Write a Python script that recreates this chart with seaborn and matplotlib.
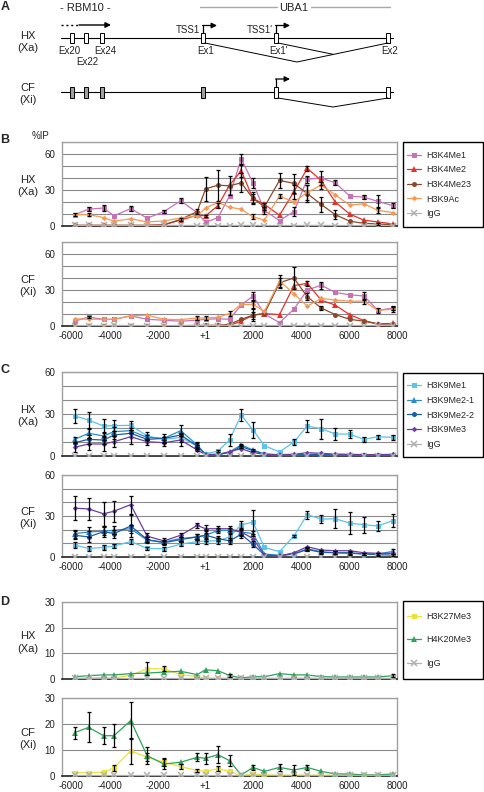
import numpy as np
import matplotlib
matplotlib.use("Agg")
import matplotlib.pyplot as plt
from matplotlib.patches import Rectangle
from matplotlib.transforms import ScaledTranslation
import seaborn as sns

# amplicon positions (bp, relative to TSS1 = +1)
pos = [-5470, -4890, -4260, -3830, -3130, -2440, -1740, -1040, -350, 0, 520, 1000,
       1490, 1980, 2460, 3090, 3690, 4250, 4830, 5420, 6020, 6620, 7200, 7830]
xtick_vals = [-6000, -4000, -2000, 0, 2000, 4000, 6000, 8000]
xtick_labels = ['-6000', '-4000', '-2000', '+1', '2000', '4000', '6000', '8000']

# --- B: active marks, HX (Xa) ---
b_hx_k4me1 = [9.5, 14, 15, 8.5, 14.5, 6.5, 12, 21, 11, 3, 7, 25, 56, 36, 13, 4.5, 12, 39, 40, 36, 25, 24, 20.5, 17]
b_hx_k4me1_err = [0, 1.5, 2.5, 0, 2, 0, 1.5, 2, 0, 0, 0, 0, 4, 4, 3, 0, 4, 3, 6, 2, 0, 1.5, 5, 2]
b_hx_k4me2 = [0.5, 0.5, 0.5, 0.5, 0.5, 0.5, 1, 5, 9, 8.5, 17, 34, 46, 23, 18, 9, 28.5, 48, 38, 20, 10, 4.8, 3.4, 1.7]
b_hx_k4me2_err = [0, 0, 0, 0, 0, 0, 0, 0, 0, 1, 2, 0, 5, 4, 0, 0, 6, 2, 0, 0, 0, 0, 0, 0]
b_hx_k4me23 = [0.5, 0.5, 0.5, 0.5, 0.5, 0.5, 1, 5.5, 12, 31, 34, 33.5, 36, 23, 16, 38, 35.5, 27, 18, 9.5, 4, 2.2, 1.7, 1]
b_hx_k4me23_err = [0, 0, 0, 0, 0, 0, 0, 1, 2, 10, 13, 8, 8, 5, 3, 6, 8, 7, 6, 4, 0, 0, 1, 0]
b_hx_k9ac = [9.5, 9.5, 7, 4, 6, 3.4, 4.2, 6.7, 8.4, 15, 19.6, 15.7, 14, 7.6, 5, 25, 20, 28, 34, 26, 17.4, 18.5, 13, 11.2]
b_hx_k9ac_err = [1, 1, 0, 0, 0, 0, 0, 0, 0, 0, 0, 0, 0, 2, 0, 2, 0, 6, 3, 0, 0, 0, 2, 0]
b_hx_igg = [0.5, 0.5, 0.6, 0.5, 0.5, 0.4, 0.5, 0.5, 0.4, 0.4, 0.4, 0.4, 0.5, 0.5, 0.4, 0.4, 0.4, 0.5, 0.5, 0.4, 0.4, 0.4, 0.4, 0.4]

# --- B: active marks, CF (Xi) ---
b_cf_k4me1 = [4, 7.5, 5.6, 5.6, 8.4, 5.6, 4.8, 4, 4.8, 5.6, 6, 5.6, 17.4, 25, 10, 2.8, 14, 30, 34, 28, 26, 25, 13, 15]
b_cf_k4me1_err = [0, 1, 0, 0, 0, 0, 0, 0, 0, 0, 0, 0, 0, 3, 0, 0, 0, 0, 3, 0, 0, 3, 0, 2]
b_cf_k4me2 = [0.3, 0.3, 0.3, 0.3, 0.3, 0.3, 0.3, 0.3, 0.3, 0.3, 0.5, 0.5, 4, 9, 10.4, 9.5, 33.6, 35.6, 21.6, 17.4, 9.5, 4.5, 1.7, 2.2]
b_cf_k4me2_err = [0, 0, 0, 0, 0, 0, 0, 0, 0, 0, 0, 0, 0, 3, 0, 0, 0, 2, 0, 0, 0, 0, 0, 0]
b_cf_k4me23 = [0.3, 0.3, 0.3, 0.3, 0.3, 0.3, 0.3, 0.3, 0.5, 0.5, 0.5, 1.4, 5.6, 9, 10.4, 36, 40, 24.4, 15, 9.5, 5.6, 4, 1.7, 1.7]
b_cf_k4me23_err = [0, 0, 0, 0, 0, 0, 0, 0, 0, 0, 0, 0, 0, 5, 0, 4, 9, 3, 2, 0, 0, 0, 0, 0]
b_cf_k9ac = [6, 5.6, 5.6, 5.6, 8.4, 9, 5.6, 5.3, 6.7, 6.7, 7.3, 10.4, 18, 18, 12.3, 37.5, 27, 16.5, 23, 21.6, 20.7, 20.7, 13, 14]
b_cf_k9ac_err = [0, 0, 0, 0, 0, 0, 0, 0, 2, 2, 0, 2, 0, 3, 0, 5, 0, 0, 0, 0, 0, 2, 2, 2]
b_cf_igg = [0.4, 0.4, 0.4, 0.5, 0.4, 0.4, 0.4, 0.4, 0.4, 0.4, 0.4, 0.4, 0.4, 0.4, 0.4, 0.4, 0.4, 0.4, 0.4, 0.4, 0.4, 0.4, 0.4, 0.4]

# --- C: H3K9 methylation, HX (Xa) ---
c_hx_k9me1 = [28.6, 25.7, 21.4, 21.7, 21.9, 14.3, 11.9, 13.3, 7.1, 1.4, 3.6, 11.4, 29.3, 18.6, 7.4, 2.9, 10, 21.4, 19.5, 15.7, 15.7, 11.9, 13.8, 13.3]
c_hx_k9me1_err = [5, 6, 5, 4, 3, 3, 2, 3, 2, 0, 1, 4, 4, 6, 0, 0, 2, 4, 7, 4, 3, 2, 1.5, 2]
c_hx_k9me2_1 = [11.9, 16.2, 14.3, 17.4, 18.1, 13.3, 12.6, 18.1, 7.9, 1.2, 1.2, 2.9, 7.9, 4.3, 1.4, 0.8, 0.8, 1.2, 1.2, 0.8, 0.8, 0.6, 0.6, 0.8]
c_hx_k9me2_1_err = [2, 3, 3, 3, 2, 2, 3, 4, 2, 0, 0, 0, 1, 1, 0, 0, 0, 0, 0, 0, 0, 0, 0, 0]
c_hx_k9me2_2 = [9.5, 11.9, 11.4, 15, 16.2, 11.9, 12.6, 15, 7.1, 1, 1, 2.4, 6.7, 3.8, 1.4, 0.6, 0.6, 1, 1, 0.6, 0.6, 0.5, 0.5, 0.6]
c_hx_k9me2_2_err = [0, 3, 3, 3, 0, 0, 0, 0, 1, 0, 0, 0, 1, 0, 0, 0, 0, 0, 0, 0, 0, 0, 0, 0]
c_hx_k9me3 = [6.2, 8.6, 8.6, 10.2, 13.8, 10.2, 9.5, 11.4, 4.3, 1, 1, 3.1, 5.2, 2.4, 1.2, 1, 1.2, 2.4, 1.9, 1.4, 1.2, 1, 1, 1.2]
c_hx_k9me3_err = [3, 4, 5, 4, 5, 2, 2, 4, 1, 0, 0, 0, 0, 0, 0, 0, 0, 0, 0, 0, 0, 0, 0, 0]
c_hx_igg = [0.3, 0.3, 0.3, 0.3, 0.3, 0.3, 0.3, 0.3, 0.3, 0.3, 0.3, 0.3, 0.3, 0.3, 0.3, 0.3, 0.3, 0.3, 0.3, 0.3, 0.3, 0.3, 0.3, 0.3]

# --- C: H3K9 methylation, CF (Xi) ---
c_cf_k9me1 = [8.7, 6.3, 7, 8, 11.3, 6.3, 6, 9.4, 11.3, 11.8, 11.8, 14.7, 23.6, 25.5, 7, 3.9, 15.4, 31, 27.7, 28, 24.8, 23.6, 22.7, 26.7]
c_cf_k9me1_err = [2, 2, 2, 1.5, 2, 1, 1.5, 1.5, 2, 2, 2, 2, 3, 9, 0, 0, 1, 3, 3, 7, 8, 6, 4, 5]
c_cf_k9me2_1 = [17.1, 18.3, 19, 19.5, 20.7, 12.3, 11, 13.5, 14.7, 15.9, 19.5, 19.5, 18.3, 17.1, 2.2, 1.2, 2.2, 6, 3.9, 3.1, 2.7, 2.2, 2.2, 4.1]
c_cf_k9me2_1_err = [3, 4, 3, 3, 3, 2, 1.5, 1.5, 2, 3, 2, 2, 3, 2, 0, 0, 0, 1, 1, 1, 1, 1, 1, 2]
c_cf_k9me2_2 = [15.9, 14.7, 18.6, 17.1, 22.7, 12.8, 10.4, 12.8, 14.7, 15.9, 13.5, 11.8, 16.6, 9.4, 1.4, 1, 2.2, 5.5, 3.4, 3.1, 3.1, 2.2, 1.7, 1.4]
c_cf_k9me2_2_err = [3, 4, 4, 3, 8, 2, 1.5, 1.5, 2, 4, 2, 2, 3, 2, 0, 0, 0, 1, 1, 1, 1, 1, 1, 1]
c_cf_k9me3 = [35.7, 35.2, 31.6, 33.5, 38.3, 15.2, 11.8, 15.9, 23.1, 20.7, 20.7, 20.7, 18.3, 13.5, 1.4, 0.7, 3.1, 7.5, 5.1, 4.6, 4.6, 3.1, 2.7, 2.7]
c_cf_k9me3_err = [8.7, 8, 9, 7.6, 6.6, 2, 2, 1.5, 2, 3, 2, 2, 2, 0, 0, 0, 0, 0, 0, 0, 0, 0, 0, 0]
c_cf_igg = [0.3, 0.3, 0.3, 0.3, 0.3, 0.3, 0.3, 0.3, 0.3, 0.3, 0.3, 0.3, 0.3, 0.3, 0.3, 0.3, 0.3, 0.3, 0.3, 0.3, 0.3, 0.3, 0.3, 0.3]

# --- D: H3K27Me3 / H4K20Me3 ---
d_hx_k27me3 = [0.4, 0.4, 0.6, 0.4, 1.4, 4, 4, 1.7, 0.9, 0.4, 0.3, 0.3, 0.3, 0.3, 0.3, 0.3, 0.3, 0.3, 0.3, 0.3, 0.3, 0.3, 0.3, 0.3]
d_hx_k27me3_err = [0, 0, 0, 0, 0, 2.5, 1, 0, 0, 0, 0, 0, 0, 0, 0, 0, 0, 0, 0, 0, 0, 0, 0, 0]
d_hx_k20me3 = [0.9, 1.3, 1.6, 1.6, 2.1, 2.3, 2.7, 3, 1.7, 3.6, 3.2, 1.4, 0.4, 0.9, 0.9, 2.1, 1.6, 1.6, 0.9, 0.8, 0.8, 0.8, 0.8, 1.3]
d_hx_k20me3_err = [0, 0, 0, 0, 0, 0, 0, 0, 0, 0, 0, 0.7, 0, 0, 0, 0, 0, 0, 0, 0, 0, 0, 0, 0.7]
d_hx_igg = [0.2, 0.2, 0.2, 0.2, 0.2, 0.2, 0.2, 0.2, 0.2, 0.2, 0.2, 0.2, 0.2, 0.2, 0.2, 0.2, 0.2, 0.2, 0.2, 0.2, 0.2, 0.2, 0.2, 0.2]

d_cf_k27me3 = [1.2, 1.3, 1.5, 3.1, 9.7, 7.2, 5.3, 3.6, 2.1, 1.8, 2.8, 1.8, 0, 0.8, 0.4, 0.3, 0.3, 0.3, 0.3, 0.3, 0.3, 0.3, 0.3, 0.3]
d_cf_k27me3_err = [0, 0, 0, 1.2, 5, 1.5, 1.5, 1, 0.5, 0, 1, 0, 0, 0, 0, 0, 0, 0, 0, 0, 0, 0, 0, 0]
d_cf_k20me3 = [16.7, 18.7, 15.5, 15.5, 21.3, 7.8, 4.6, 5.3, 7.2, 6.8, 8.2, 5.9, 0.4, 3.3, 1.8, 3.3, 2.3, 3.3, 1.8, 0.8, 0.8, 0.4, 0.4, 0.8]
d_cf_k20me3_err = [2.3, 5.8, 3.2, 4.5, 7, 3.3, 2, 0, 1.5, 2, 3.2, 2, 0, 1, 0, 1.5, 2, 1, 0, 0, 0, 0, 0, 0]
d_cf_igg = [0.2, 0.2, 0.2, 0.2, 0.2, 0.2, 0.2, 0.2, 0.2, 0.2, 0.2, 0.2, 0.2, 0.2, 0.2, 0.2, 0.2, 0.2, 0.2, 0.2, 0.2, 0.2, 0.2, 0.2]

# gene diagram (panel A), pixel layout
rbm10_exons = [72, 86, 102]
uba1_exons = [203, 276, 388]
exon_names = ['Ex20', 'Ex22', 'Ex24', 'Ex1', "Ex1'", 'Ex2']

sns.set_style("white")
plt.rcParams['font.family'] = ['Liberation Sans', 'DejaVu Sans']

W, H = 484, 792
fig = plt.figure(figsize=(W / 100, H / 100), dpi=100)


def box(l, t, r, b):
    return fig.add_axes([l / W, 1 - b / H, (r - l) / W, (b - t) / H])


def ftext(x, y, s, **kw):
    fig.text(x / W, 1 - y / H, s, **kw)


C_ME1, C_ME2, C_ME23, C_AC = '#c672b5', '#e2322b', '#8a4a2a', '#f39a56'
C_IGG = '#b0b0b0'
C_K9ME1, C_K9ME21, C_K9ME22, C_K9ME3 = '#5cc3ea', '#2a8ccd', '#1c5da6', '#6a3e9c'
C_K27, C_K20 = '#ece13c', '#2ea35c'
MSIZE = {'s': 3.6, '^': 4.2, 'o': 3.6, 'D': 2.8, 'x': 4.0}


def draw_chart(ax, series, ymax, ylabels, show_x):
    handles = []
    for name, vals, errs, color, marker in series:
        mew = 1.1 if name == 'IgG' else 0
        sns.lineplot(x=pos, y=vals, ax=ax, color=color, marker=marker, markersize=MSIZE[marker],
                     markeredgewidth=mew, markeredgecolor=color, linewidth=0.9,
                     label=name, zorder=3)
        handles.append(ax.lines[-1])
        if errs is not None:
            e = np.array(errs)
            m = e > 0
            ax.errorbar(np.array(pos)[m], np.array(vals)[m], yerr=e[m], fmt='none',
                        ecolor='black', elinewidth=0.9, capsize=1.6, capthick=0.9, zorder=4)
    if ax.get_legend() is not None:
        ax.get_legend().remove()
    ax.set_xlim(-6000, 8000)
    ax.set_ylim(0, ymax)
    yt = list(range(0, ymax + 1, 10))
    ax.set_yticks(yt)
    ax.set_yticklabels([str(v) if v in ylabels else '' for v in yt])
    ax.yaxis.grid(True, color='#8a8a8a', lw=0.8)
    ax.set_axisbelow(True)
    ax.tick_params(axis='y', length=0, labelsize=7, pad=5, labelcolor='#222222')
    ax.set_xticks(xtick_vals)
    ax.tick_params(axis='x', direction='inout', length=6, width=1, labelsize=7,
                   pad=0.5, color='#222222', labelcolor='#222222')
    if show_x:
        ax.set_xticklabels(xtick_labels)
        first = ax.get_xticklabels()[0]
        first.set_transform(first.get_transform() + ScaledTranslation(0.09, 0, fig.dpi_scale_trans))
    else:
        ax.set_xticklabels([])
    for s in ['top', 'right', 'left']:
        ax.spines[s].set_color('#a0a0a0')
        ax.spines[s].set_linewidth(1)
    ax.spines['bottom'].set_color('#222222')
    ax.spines['bottom'].set_linewidth(1.2)
    ax.set_xlabel('')
    ax.set_ylabel('')
    return handles


def draw_legend(l, t, r, b, handles, spacing):
    lax = box(l, t, r, b)
    lax.axis('off')
    lax.add_patch(Rectangle((0, 0), 1, 1, transform=lax.transAxes, fill=False,
                            edgecolor='black', lw=1, clip_on=False))
    lax.legend(handles=handles, labels=[h.get_label() for h in handles], loc='center left',
               bbox_to_anchor=(0, 0.5), frameon=False, fontsize=6.5, handlelength=1.6,
               handletextpad=0.55, borderaxespad=0, borderpad=0.4, labelspacing=spacing)


def side_label(ax_top, ax_bot, text):
    ftext(28, (ax_top + ax_bot) / 2 + 2, text, ha='center', va='center', fontsize=8,
          linespacing=1.35, color='#222222')


# ---------------- panel B ----------------
ax = box(62, 142, 397, 226)
hB = draw_chart(ax, [('H3K4Me1', b_hx_k4me1, b_hx_k4me1_err, C_ME1, 's'),
                     ('H3K4Me2', b_hx_k4me2, b_hx_k4me2_err, C_ME2, '^'),
                     ('H3K4Me23', b_hx_k4me23, b_hx_k4me23_err, C_ME23, 'o'),
                     ('H3K9Ac', b_hx_k9ac, b_hx_k9ac_err, C_AC, 'D'),
                     ('IgG', b_hx_igg, None, C_IGG, 'x')], 70, [0, 30, 60], False)
ax = box(62, 242, 397, 326)
draw_chart(ax, [('H3K4Me1', b_cf_k4me1, b_cf_k4me1_err, C_ME1, 's'),
                ('H3K4Me2', b_cf_k4me2, b_cf_k4me2_err, C_ME2, '^'),
                ('H3K4Me23', b_cf_k4me23, b_cf_k4me23_err, C_ME23, 'o'),
                ('H3K9Ac', b_cf_k9ac, b_cf_k9ac_err, C_AC, 'D'),
                ('IgG', b_cf_igg, None, C_IGG, 'x')], 70, [0, 30, 60], True)
draw_legend(403, 142, 483, 227, hB, 0.62)
side_label(142, 226, 'HX\n(Xa)')
side_label(242, 326, 'CF\n(Xi)')
ftext(40, 136, '%IP', ha='center', va='center', fontsize=7, color='#222222')

# ---------------- panel C ----------------
ax = box(62, 372, 397, 456)
hC = draw_chart(ax, [('H3K9Me1', c_hx_k9me1, c_hx_k9me1_err, C_K9ME1, 's'),
                     ('H3K9Me2-1', c_hx_k9me2_1, c_hx_k9me2_1_err, C_K9ME21, '^'),
                     ('H3K9Me2-2', c_hx_k9me2_2, c_hx_k9me2_2_err, C_K9ME22, 'o'),
                     ('H3K9Me3', c_hx_k9me3, c_hx_k9me3_err, C_K9ME3, 'D'),
                     ('IgG', c_hx_igg, None, C_IGG, 'x')], 60, [0, 30, 60], False)
ax = box(62, 475, 397, 557)
draw_chart(ax, [('H3K9Me1', c_cf_k9me1, c_cf_k9me1_err, C_K9ME1, 's'),
                ('H3K9Me2-1', c_cf_k9me2_1, c_cf_k9me2_1_err, C_K9ME21, '^'),
                ('H3K9Me2-2', c_cf_k9me2_2, c_cf_k9me2_2_err, C_K9ME22, 'o'),
                ('H3K9Me3', c_cf_k9me3, c_cf_k9me3_err, C_K9ME3, 'D'),
                ('IgG', c_cf_igg, None, C_IGG, 'x')], 60, [0, 30, 60], True)
draw_legend(403, 373, 483, 457, hC, 0.62)
side_label(372, 456, 'HX\n(Xa)')
side_label(475, 557, 'CF\n(Xi)')

# ---------------- panel D ----------------
ax = box(62, 602, 397, 679)
hD = draw_chart(ax, [('H3K27Me3', d_hx_k27me3, d_hx_k27me3_err, C_K27, 's'),
                     ('H4K20Me3', d_hx_k20me3, d_hx_k20me3_err, C_K20, '^'),
                     ('IgG', d_hx_igg, None, C_IGG, 'x')], 30, [0, 10, 20, 30], False)
ax = box(62, 698, 397, 776)
draw_chart(ax, [('H3K27Me3', d_cf_k27me3, d_cf_k27me3_err, C_K27, 's'),
                ('H4K20Me3', d_cf_k20me3, d_cf_k20me3_err, C_K20, '^'),
                ('IgG', d_cf_igg, None, C_IGG, 'x')], 30, [0, 10, 20, 30], True)
draw_legend(403, 601, 483, 679, hD, 1.6)
side_label(602, 679, 'HX\n(Xa)')
side_label(698, 776, 'CF\n(Xi)')

# ---------------- panel A: gene diagram ----------------
axA = fig.add_axes([0, 1 - 128 / H, 1, 128 / H])
axA.set_xlim(0, W)
axA.set_ylim(128, 0)
axA.axis('off')

for ty in [38, 92]:
    axA.plot([61, 393], [ty, ty], color='black', lw=0.8, zorder=1)
for i, ex in enumerate(rbm10_exons + uba1_exons):
    axA.add_patch(Rectangle((ex - 2.2, 33), 4.4, 10, facecolor='white', edgecolor='black', lw=0.7, zorder=2))
    fc = '#a0a0a0' if i < 4 else 'white'
    axA.add_patch(Rectangle((ex - 2.2, 87), 4.4, 11, facecolor=fc, edgecolor='black', lw=0.7, zorder=2))

label_xy = [(69, 51), (87, 62), (105, 51), (206, 51), (278, 51), (390, 51)]
for name, (lx, ly) in zip(exon_names, label_xy):
    axA.text(lx, ly, name, ha='center', va='center', fontsize=7, color='#222222')

# RBM10 transcription direction
axA.plot([61, 79], [25, 25], color='black', lw=1, ls=(0, (1.5, 2)))
axA.annotate('', xy=(111, 25), xytext=(79, 25),
             arrowprops=dict(arrowstyle='-|>', color='black', lw=1, mutation_scale=8,
                             shrinkA=0, shrinkB=0))


def tss(x, ybase, ytop, length):
    axA.plot([x, x], [ybase, ytop], color='black', lw=0.9)
    axA.annotate('', xy=(x + length, ytop), xytext=(x - 0.45, ytop),
                 arrowprops=dict(arrowstyle='-|>', color='black', lw=0.9, mutation_scale=8,
                                 shrinkA=0, shrinkB=0))


tss(uba1_exons[0], 33, 25.5, 14)
tss(uba1_exons[1], 33, 25.5, 14)
tss(uba1_exons[1], 87, 79, 14)
axA.text(200, 30, 'TSS1', ha='right', va='center', fontsize=7, color='#222222')
axA.text(273, 30, "TSS1'", ha='right', va='center', fontsize=7, color='#222222')

# splicing
axA.plot([205, 297, 388], [43, 62, 43], color='black', lw=0.7)
axA.plot([278, 333], [43, 54.3], color='black', lw=0.7)
axA.plot([278, 333, 388], [98, 107, 98], color='black', lw=0.7)

# gene names
axA.text(85, 8, '- RBM10 -', ha='center', va='center', fontsize=8, color='#222222')
axA.plot([200, 277], [7, 7], color='#a8a8a8', lw=1)
axA.plot([311, 390], [7, 7], color='#a8a8a8', lw=1)
axA.text(294, 8, 'UBA1', ha='center', va='center', fontsize=8, color='#222222')

ftext(28, 42, 'HX\n(Xa)', ha='center', va='center', fontsize=8, linespacing=1.35, color='#222222')
ftext(28, 94, 'CF\n(Xi)', ha='center', va='center', fontsize=8, linespacing=1.35, color='#222222')

# panel letters
for letter, y in [('A', 7), ('B', 140), ('C', 370), ('D', 602)]:
    ftext(5, y, letter, ha='center', va='center', fontsize=9, fontweight='bold')

fig.savefig('out.png', dpi=100)
